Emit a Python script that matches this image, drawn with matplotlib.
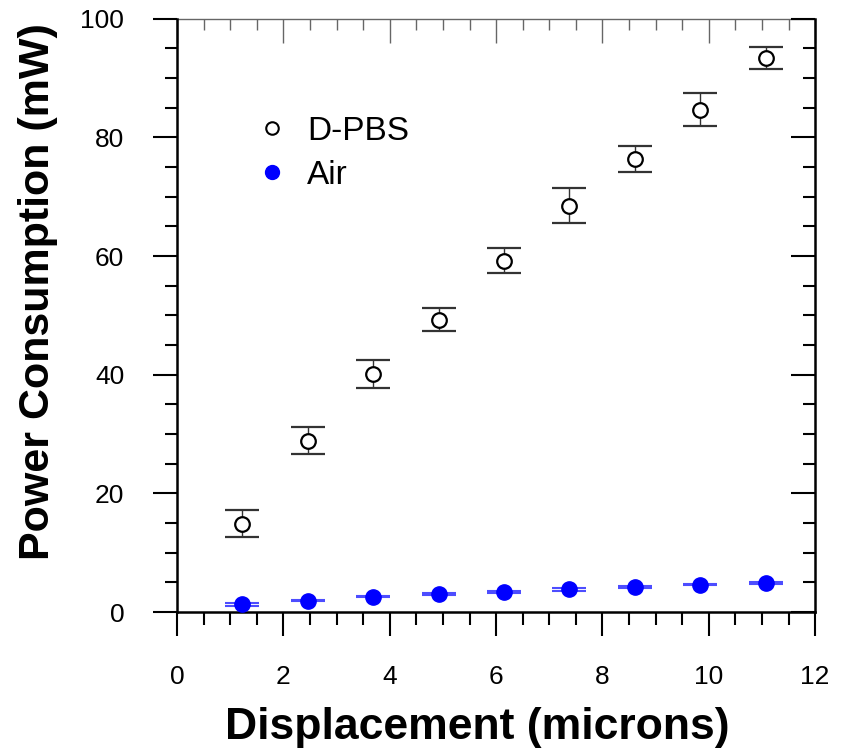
"""
Power consumption vs displacement, D-PBS and air
"""

from matplotlib import pyplot as plt
from matplotlib.lines import Line2D
from matplotlib.ticker import MultipleLocator

plt.rcParams['font.family'] = ['Liberation Sans', 'DejaVu Sans']

displacement = [1.23, 2.46, 3.69, 4.92, 6.15, 7.38, 8.61, 9.84, 11.07]
power_dpbs = [14.9, 28.9, 40.1, 49.3, 59.2, 68.5, 76.3, 84.7, 93.4]
err_dpbs = [2.3, 2.2, 2.4, 2.0, 2.1, 3.0, 2.2, 2.7, 1.9]
power_air = [1.3, 1.9, 2.6, 3.0, 3.4, 3.8, 4.2, 4.6, 4.9]
err_air = [0.3, 0.1, 0.1, 0.2, 0.2, 0.2, 0.2, 0.1, 0.2]

fig = plt.figure(figsize=(8.43, 7.5), dpi=100)
ax = fig.add_axes([0.21, 0.184, 0.757, 0.791])

ax.errorbar(displacement, power_dpbs, yerr=err_dpbs, fmt='o', mfc='white', mec='black',
            mew=1.6, ms=10.5, ecolor='#333333', elinewidth=1.0, capsize=12.5, capthick=1.0,
            zorder=3)
ax.errorbar(displacement, power_air, yerr=err_air, fmt='o', color='#0000ff', ms=11,
            ecolor='#4d4dff', elinewidth=1.5, capsize=12.5, capthick=1.5,
            zorder=3)

ax.set_xlim(0, 12)
ax.set_ylim(0, 100)
ax.xaxis.set_major_locator(MultipleLocator(2))
ax.xaxis.set_minor_locator(MultipleLocator(0.5))
ax.yaxis.set_major_locator(MultipleLocator(20))
ax.yaxis.set_minor_locator(MultipleLocator(5))

ax.tick_params(which='major', direction='out', length=17, width=1.5, labelsize=19, pad=21)
ax.tick_params(which='minor', direction='out', length=9, width=1.5)
for side in ['left', 'bottom']:
    ax.spines[side].set_linewidth(1.8)
ax.spines['top'].set_visible(False)
ax.spines['right'].set_visible(False)

# top axis: thin gray, ticks pointing in
top = ax.secondary_xaxis('top')
top.xaxis.set_major_locator(MultipleLocator(2))
top.xaxis.set_minor_locator(MultipleLocator(0.5))
top.tick_params(which='major', direction='in', length=17, width=1.0, color='#666666', labeltop=False)
top.tick_params(which='minor', direction='in', length=8, width=1.0, color='#666666')
top.spines['top'].set_color('#666666')
top.spines['top'].set_linewidth(1.0)

# right axis: black, ticks pointing in
right = ax.secondary_yaxis('right')
right.yaxis.set_major_locator(MultipleLocator(20))
right.yaxis.set_minor_locator(MultipleLocator(5))
right.tick_params(which='major', direction='in', length=17, width=1.5, labelright=False)
right.tick_params(which='minor', direction='in', length=9, width=1.5)
right.spines['right'].set_linewidth(1.8)

ax.set_xlabel('Displacement (microns)', fontsize=32, fontweight='bold', labelpad=13)
ax.xaxis.label.set_x(0.47)
ax.set_ylabel('Power Consumption (mW)', fontsize=31, fontweight='bold', labelpad=16)
ax.yaxis.label.set_y(0.54)

handles = [Line2D([], [], ls='none', marker='o', mfc='white', mec='black', mew=1.5, ms=9),
           Line2D([], [], ls='none', marker='o', color='#0000ff', ms=10)]
ax.legend(handles, ['D-PBS', 'Air'], loc='upper left', bbox_to_anchor=(0.102, 0.865),
          frameon=False, fontsize=24, handlelength=0.8, handletextpad=0.65,
          labelspacing=0.4, borderpad=0)

fig.savefig('out.png', dpi=100)
